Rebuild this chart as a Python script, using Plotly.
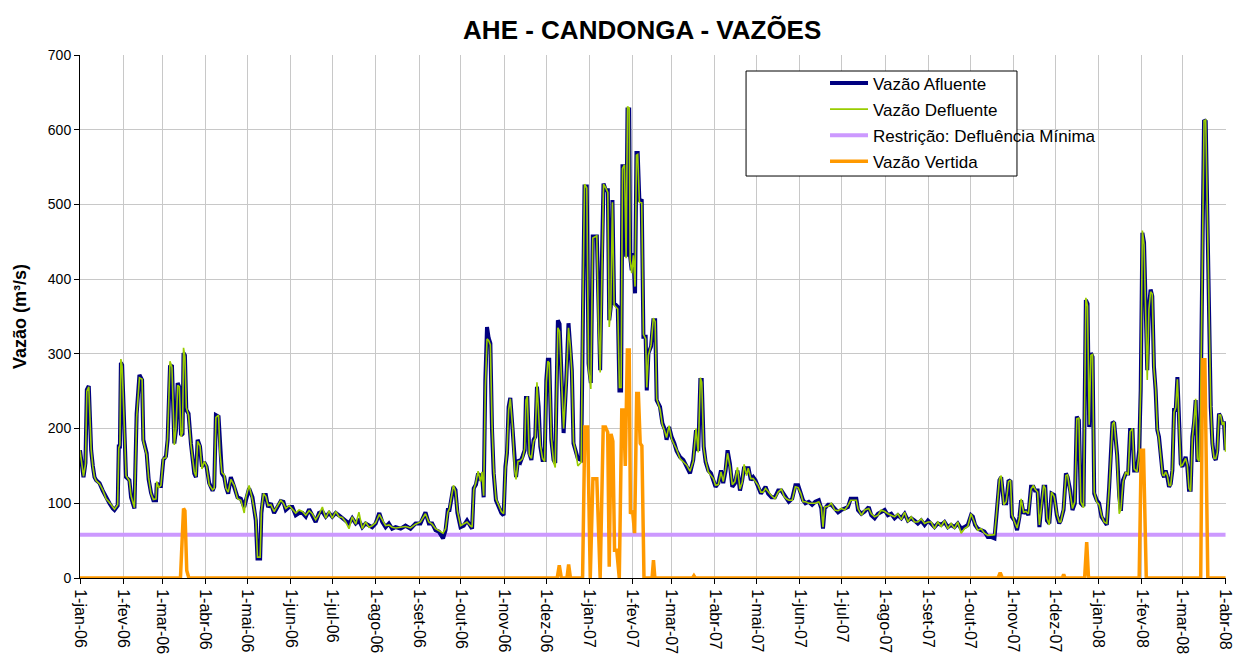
import pandas as pd
import plotly.graph_objects as go

# ---------------- DATA ----------------
data_inicial = "2006-01-01"

# day offsets (from 1-jan-2006) of the points
dias = [
    0, 1.6, 2.5, 3.9, 4.9, 6.3, 8, 9.2, 10.4, 11.6,
    14, 16.3, 18.7, 21.1, 23.5, 24.7, 27, 27.8, 28.6, 29.3,
    30.2, 31.8, 33, 35.4, 36.6, 39, 40.6, 42.6, 44.5, 45.4,
    47.8, 49.2, 50.9, 52.6, 54.5, 55, 56.4, 58, 59.7, 61.6,
    62.8, 64.5, 65.9, 67.6, 68.8, 70, 71.2, 72.4, 73.5, 74.2,
    75.2, 76.2, 77.8, 79.5, 81.9, 83.1, 84.3, 86, 87.4, 89,
    90.7, 92.6, 95, 96.2, 97.4, 99.3, 100.3, 101.7, 103.4, 104.6,
    106.2, 108.1, 110.5, 112.9, 115.3, 117.7, 118.9, 121.2, 123.6, 126,
    127.2, 129.1, 130, 131.5, 133.2, 134.8, 136.8, 139.1, 141.5, 143.9,
    145.8, 147.5, 149.9, 152.2, 154.6, 157, 159.4, 161.8, 164.2, 166.5,
    168.9, 171.3, 173.7, 176.1, 178.5, 180.8, 183.3, 185.6, 188, 190.4,
    192.8, 195.1, 197.6, 199.9, 202.3, 204.7, 207.1, 209.4, 211.9, 214.5,
    216.6, 219, 221.4, 223.7, 226.2, 229.8, 233.3, 236.9, 240.5, 244,
    247.6, 250, 252.4, 254.8, 257.2, 260.2, 262, 263.6, 264.8, 266.7,
    267.6, 269.1, 270.5, 272.7, 275, 277.4, 279.8, 281, 282.2, 283.8,
    285.3, 287, 288.1, 289.3, 290.5, 291.7, 292.9, 294.1, 295.3, 296.5,
    298.1, 300.1, 302, 303.6, 304.9, 306, 307.2, 308.4, 310.1, 311.5,
    312.5, 313.9, 315.6, 317.2, 318.7, 319.6, 320.6, 322, 323.5, 325.1,
    326.3, 327.5, 328.7, 329.9, 331.5, 333, 334.2, 335.3, 336.3, 337.8,
    339.4, 340.6, 341.3, 342.5, 343.7, 345.4, 346.6, 348.5, 350.1, 351.3,
    352.5, 353.7, 355.4, 356.8, 359.2, 360.2, 361.6, 363.2, 364.5, 366.1,
    367.5, 370.4, 371.6, 372.8, 374, 375.2, 376.8, 378.3, 379.3, 380.4,
    381.6, 382.8, 385.4, 386.6, 387.8, 388.8, 390.2, 391.4, 392.4, 393.6,
    394.3, 395.4, 396.6, 397.8, 398.8, 399.7, 400.9, 402.6, 403.8, 405.4,
    406.2, 407.4, 409.3, 410.9, 412.2, 413.3, 415.7, 417.4, 419.3, 420.4,
    422.2, 424, 426, 427.6, 430, 432.4, 434.8, 437.2, 439.5, 441.5,
    443.1, 444.6, 445.6, 447, 448.4, 450.3, 452.2, 453.9, 455.5, 457.5,
    459.4, 461, 462.7, 464.1, 465.8, 467.5, 469.4, 471.2, 473, 474.6,
    476, 477.7, 478.9, 480.8, 482.5, 484.1, 486, 488, 489.6, 491.3,
    493.2, 495.6, 498, 500.4, 502.7, 504.7, 506.3, 508, 510.4, 512.7,
    514.7, 516.6, 518.2, 519.9, 522.3, 524.7, 527, 529.5, 531.3, 532.5,
    533.7, 536.1, 538.5, 540.9, 543.3, 545.6, 548, 550.4, 552.3, 556.4,
    557.6, 560, 562.4, 565.3, 567.1, 569.5, 571.9, 574.2, 576.7, 579,
    581.4, 583.8, 586.2, 588.6, 591, 593.3, 595.7, 598.1, 600.5, 602.9,
    605.3, 607.7, 610, 612.4, 614.8, 617.2, 619.6, 622, 624.3, 626.7,
    629.1, 631.5, 633.9, 636.3, 638.6, 639.9, 641.5, 643.4, 645.8, 648.2,
    650.6, 653, 655.4, 656.6, 659, 660.2, 662.1, 663.8, 665.5, 666.9,
    667.9, 669.8, 671.6, 673.3, 674.5, 676.3, 678, 679.7, 681.6, 683.3,
    684.4, 686.3, 687.6, 688.7, 690.6, 691.8, 693, 694.7, 696.3, 698.2,
    700.1, 701.8, 702.9, 704.9, 706.6, 707.8, 709.7, 711.3, 713, 714.4,
    715.9, 717.3, 719.2, 720.9, 722.1, 723.3, 724.5, 725.7, 726.9, 728.7,
    730.4, 732.1, 734, 735.9, 737.6, 738.8, 740, 741.2, 743.3, 744.8,
    746, 747.5, 749.5, 751.2, 752.6, 754.3, 755.5, 757.5, 759.1, 760.2,
    761.4, 762.6, 763.7, 764.9, 766.1, 767.3, 768.5, 769.7, 770.9, 772.1,
    773.3, 774.5, 775.9, 777, 778.1, 779.3, 780.5, 781.7, 782.9, 784.1,
    785.3, 786.5, 787.7, 788.9, 790.1, 791.3, 792.4, 793.6, 794.8, 796,
    797.2, 798.4, 799.6, 800.8, 802, 803.1, 804.4, 805.6, 806.8, 808,
    809.2, 810.4, 811.6, 812.8, 814, 815.1, 816.3, 817.5, 818.7, 819.9,
    821,
]

vazao_afluente = [
    171, 149, 135, 154, 252, 257, 171, 150, 135, 131,
    127, 117, 108, 100, 93, 91, 97, 176, 176, 288,
    285, 211, 135, 131, 108, 93, 220, 272, 265, 185,
    167, 132, 114, 104, 104, 127, 123, 123, 158, 163,
    185, 283, 285, 180, 198, 261, 255, 191, 193, 301,
    298, 225, 220, 180, 140, 135, 185, 176, 149, 155,
    149, 127, 117, 122, 218, 216, 171, 140, 135, 122,
    113, 135, 122, 108, 106, 95, 104, 120, 108, 77,
    26, 26, 87, 111, 111, 95, 100, 87, 95, 103,
    102, 91, 95, 95, 84, 87, 87, 82, 92, 84,
    75, 87, 89, 82, 87, 82, 87, 84, 80, 77,
    73, 80, 73, 77, 68, 73, 70, 68, 73, 87,
    75, 68, 73, 66, 68, 66, 70, 66, 73, 73,
    88, 73, 73, 64, 62, 53, 64, 91, 91, 117,
    122, 118, 87, 68, 70, 77, 68, 66, 120, 125,
    140, 131, 140, 108, 265, 336, 321, 314, 198, 140,
    104, 95, 87, 84, 149, 167, 229, 241, 198, 149,
    135, 158, 155, 163, 171, 241, 241, 167, 158, 185,
    189, 256, 229, 176, 158, 158, 265, 292, 292, 185,
    158, 154, 229, 345, 340, 265, 194, 265, 341, 310,
    278, 180, 171, 160, 158, 341, 524, 524, 287, 261,
    457, 457, 341, 278, 421, 528, 519, 519, 345, 363,
    506, 368, 363, 251, 251, 551, 551, 430, 627, 627,
    430, 412, 435, 381, 569, 569, 506, 505, 323, 323,
    251, 301, 310, 345, 345, 238, 229, 207, 198, 185,
    202, 189, 180, 170, 162, 158, 149, 140, 158, 198,
    170, 265, 265, 176, 155, 144, 140, 131, 122, 127,
    144, 127, 144, 171, 153, 122, 127, 144, 117, 131,
    149, 140, 149, 131, 135, 131, 122, 113, 117, 122,
    113, 108, 108, 117, 117, 111, 108, 102, 106, 124,
    124, 111, 104, 100, 102, 98, 102, 104, 93, 66,
    93, 98, 98, 93, 88, 91, 93, 95, 106, 106,
    91, 86, 89, 95, 84, 80, 86, 89, 91, 84,
    86, 80, 84, 80, 86, 77, 80, 77, 73, 77,
    71, 77, 73, 68, 73, 71, 75, 68, 71, 68,
    73, 66, 68, 71, 84, 82, 71, 66, 64, 62,
    55, 55, 53, 82, 131, 135, 100, 100, 131, 129,
    82, 77, 64, 82, 104, 86, 91, 84, 122, 122,
    117, 117, 68, 91, 122, 122, 77, 73, 113, 111,
    84, 73, 77, 91, 140, 135, 117, 91, 100, 216,
    211, 100, 96, 372, 367, 202, 301, 296, 113, 104,
    100, 82, 77, 71, 122, 162, 209, 207, 165, 110,
    90, 131, 140, 140, 198, 198, 144, 144, 171, 251,
    462, 449, 341, 278, 363, 386, 377, 283, 251, 198,
    189, 162, 140, 135, 144, 135, 122, 126, 144, 225,
    225, 269, 207, 153, 149, 158, 162, 149, 118, 118,
    189, 207, 238, 158, 158, 225, 430, 613, 611, 475,
    341, 229, 180, 162, 158, 171, 220, 216, 207, 207,
    171,
]

vazao_defluente = [
    171, 150, 136, 152, 250, 256, 172, 149, 135, 130,
    126, 118, 106, 101, 94, 92, 98, 174, 178, 293,
    283, 208, 137, 130, 110, 94, 215, 268, 266, 183,
    165, 134, 113, 105, 106, 129, 121, 124, 160, 161,
    188, 290, 282, 178, 200, 258, 256, 189, 195, 308,
    296, 228, 218, 178, 142, 136, 183, 177, 146, 156,
    150, 125, 118, 120, 215, 218, 168, 141, 138, 120,
    115, 132, 124, 106, 104, 87, 108, 124, 105, 80,
    28, 28, 90, 113, 109, 97, 98, 89, 97, 104,
    100, 93, 97, 92, 87, 91, 89, 84, 90, 86,
    78, 85, 95, 80, 90, 80, 89, 82, 81, 75,
    66, 82, 72, 88, 66, 75, 68, 70, 74, 85,
    77, 70, 71, 68, 67, 68, 69, 67, 72, 75,
    86, 75, 72, 66, 63, 60, 66, 88, 93, 115,
    124, 116, 90, 70, 72, 75, 70, 68, 118, 128,
    143, 129, 142, 110, 255, 320, 318, 312, 205, 145,
    106, 97, 89, 86, 145, 170, 225, 240, 200, 145,
    132, 156, 157, 160, 173, 238, 243, 165, 160, 183,
    187, 262, 225, 178, 160, 156, 262, 290, 288, 188,
    155, 148, 225, 335, 330, 262, 200, 262, 335, 312,
    276, 182, 168, 150, 155, 335, 527, 522, 280, 253,
    455, 458, 338, 275, 418, 527, 522, 516, 336, 360,
    503, 365, 360, 255, 255, 548, 553, 428, 631, 629,
    425, 408, 432, 390, 566, 567, 503, 502, 326, 320,
    255, 298, 312, 348, 343, 240, 226, 205, 195, 188,
    204, 186, 178, 172, 160, 156, 151, 143, 156, 200,
    168, 268, 262, 174, 157, 142, 138, 133, 124, 125,
    142, 129, 146, 167, 150, 125, 129, 148, 119, 128,
    152, 137, 147, 133, 133, 129, 124, 115, 115, 120,
    115, 110, 106, 115, 119, 109, 106, 104, 104, 122,
    121, 113, 102, 102, 100, 100, 100, 102, 95, 68,
    95, 96, 100, 91, 90, 93, 91, 97, 104, 104,
    93, 84, 91, 93, 86, 82, 84, 91, 89, 86,
    84, 82, 86, 78, 88, 75, 82, 75, 75, 79,
    73, 75, 75, 66, 75, 69, 77, 66, 73, 66,
    75, 60, 66, 69, 86, 80, 73, 64, 66, 60,
    57, 57, 58, 80, 133, 137, 98, 102, 129, 131,
    85, 75, 67, 80, 106, 88, 89, 86, 119, 124,
    119, 115, 71, 89, 124, 120, 80, 71, 115, 109,
    86, 75, 75, 93, 137, 138, 115, 93, 102, 213,
    214, 102, 94, 375, 364, 205, 298, 299, 115, 102,
    98, 84, 75, 73, 120, 165, 206, 209, 162, 86,
    92, 128, 142, 138, 196, 200, 146, 142, 168, 255,
    465, 446, 338, 265, 360, 383, 380, 280, 254, 200,
    187, 165, 138, 137, 142, 137, 124, 124, 146, 222,
    228, 266, 210, 150, 151, 156, 160, 151, 120, 116,
    186, 210, 240, 160, 156, 222, 425, 612, 613, 470,
    338, 232, 178, 160, 160, 168, 218, 218, 205, 209,
    169,
]

dias_vertida = [
    0, 72, 74.2, 75.2, 76.5, 78,
    342, 343.5, 345, 349, 350.2, 351.5,
    360.2, 361.8, 363.8, 365.7, 367.6, 370.4, 372.8, 375, 376.6, 378.2,
    379.3, 380.6, 381.9, 383.1, 384.7, 386.5, 388.3, 389.6, 390.8, 392.3,
    393.6, 394.5, 396, 397.5, 399, 400.2, 401.5, 402.7, 404.2,
    410, 411, 412, 439, 440, 441,
    658, 659.5, 661, 704, 705, 706, 720, 721.5, 722.8,
    759.1, 760.6, 762.2, 764.2, 803.2, 804.6, 806.2, 808.3, 821,
]
vazao_vertida = [
    0, 0, 93, 90, 10, 0,
    0, 17, 0, 0, 18, 0,
    0, 202, 202, 0, 133, 133, 0, 202, 202, 195,
    15, 193, 183, 37, 37, 0, 225, 225, 150, 305,
    305, 86, 90, 60, 247, 247, 180, 177, 0,
    0, 24, 0, 0, 3, 0,
    0, 7, 0, 0, 5, 0, 0, 48, 0,
    0, 171, 171, 0, 0, 292, 292, 0, 0,
]

datas_restricao = ["2006-01-01", "2008-04-01"]
restricao_minima = [58, 58]

rotulos_x = [
    "1-jan-06", "1-fev-06", "1-mar-06", "1-abr-06", "1-mai-06", "1-jun-06",
    "1-jul-06", "1-ago-06", "1-set-06", "1-out-06", "1-nov-06", "1-dez-06",
    "1-jan-07", "1-fev-07", "1-mar-07", "1-abr-07", "1-mai-07", "1-jun-07",
    "1-jul-07", "1-ago-07", "1-set-07", "1-out-07", "1-nov-07", "1-dez-07",
    "1-jan-08", "1-fev-08", "1-mar-08", "1-abr-08",
]

# ---------------- FIGURE ----------------
inicio = pd.Timestamp(data_inicial)
x_fluxo = inicio + pd.to_timedelta(dias, unit="D")
x_vertida = inicio + pd.to_timedelta(dias_vertida, unit="D")
ticks_x = pd.date_range("2006-01-01", "2008-04-01", freq="MS")

FONT = "Liberation Sans, Arial, sans-serif"

fig = go.Figure()
fig.add_trace(go.Scatter(
    x=pd.to_datetime(datas_restricao), y=restricao_minima, mode="lines",
    name="Restrição: Defluência Mínima", line=dict(color="#CC99FF", width=4),
    legendrank=3, legendgroup="c"))
fig.add_trace(go.Scatter(
    x=x_fluxo, y=vazao_afluente, mode="lines", name="Vazão Afluente",
    line=dict(color="#000080", width=4), legendrank=1, legendgroup="a"))
fig.add_trace(go.Scatter(
    x=x_fluxo, y=vazao_defluente, mode="lines", name="Vazão Defluente",
    line=dict(color="#99CC00", width=1.6), legendrank=2, legendgroup="b"))
fig.add_trace(go.Scatter(
    x=x_vertida, y=vazao_vertida, mode="lines", name="Vazão Vertida",
    line=dict(color="#FF9900", width=3.5), legendrank=4, legendgroup="d"))

fig.update_layout(
    width=1235, height=657,
    margin=dict(l=80, r=9, t=55, b=79),
    paper_bgcolor="white", plot_bgcolor="white",
    font=dict(family=FONT, size=13, color="black"),
    title=dict(text="<b>AHE - CANDONGA - VAZÕES</b>", x=0.52, xanchor="center",
               y=0.955, yanchor="middle", font=dict(size=26, family=FONT, color="black")),
    showlegend=True,
    legend=dict(x=0.6501, y=0.98, xanchor="left", yanchor="top",
                bgcolor="rgba(0,0,0,0)", borderwidth=0,
                font=dict(size=17, family=FONT, color="black"),
                itemwidth=38, tracegroupgap=1, traceorder="grouped"),
    shapes=[dict(type="rect", xref="paper", yref="paper",
                 x0=0.5812, x1=0.8176, y0=0.7686, y1=0.9694,
                 line=dict(color="black", width=1), fillcolor="white", layer="above")],
)

fig.update_xaxes(
    type="date", automargin=False,
    range=[ticks_x[0], ticks_x[-1] + pd.Timedelta(hours=8)],
    tickmode="array", tickvals=ticks_x, ticktext=rotulos_x, tickangle=90,
    ticklabeloverflow="allow",
    showgrid=True, gridcolor="#C8C8C8", gridwidth=1,
    showline=True, linecolor="black", linewidth=1,
    ticks="outside", ticklen=5, tickcolor="black", ticklabelstandoff=2,
    tickfont=dict(size=16, family=FONT), zeroline=False,
)
fig.update_yaxes(
    range=[0, 700], dtick=100, tick0=0, automargin=False,
    showgrid=True, gridcolor="#C8C8C8", gridwidth=1,
    showline=True, linecolor="black", linewidth=1,
    ticks="outside", ticklen=5, tickcolor="black",
    tickfont=dict(size=14, family=FONT), zeroline=False,
    title=dict(text="<b>Vazão (m³/s)</b>", font=dict(size=18, family=FONT), standoff=16),
)

fig.write_html(
    "out.html",
    config={"displayModeBar": False},
    post_script="document.body.style.margin='0';document.body.style.overflow='hidden';",
)
